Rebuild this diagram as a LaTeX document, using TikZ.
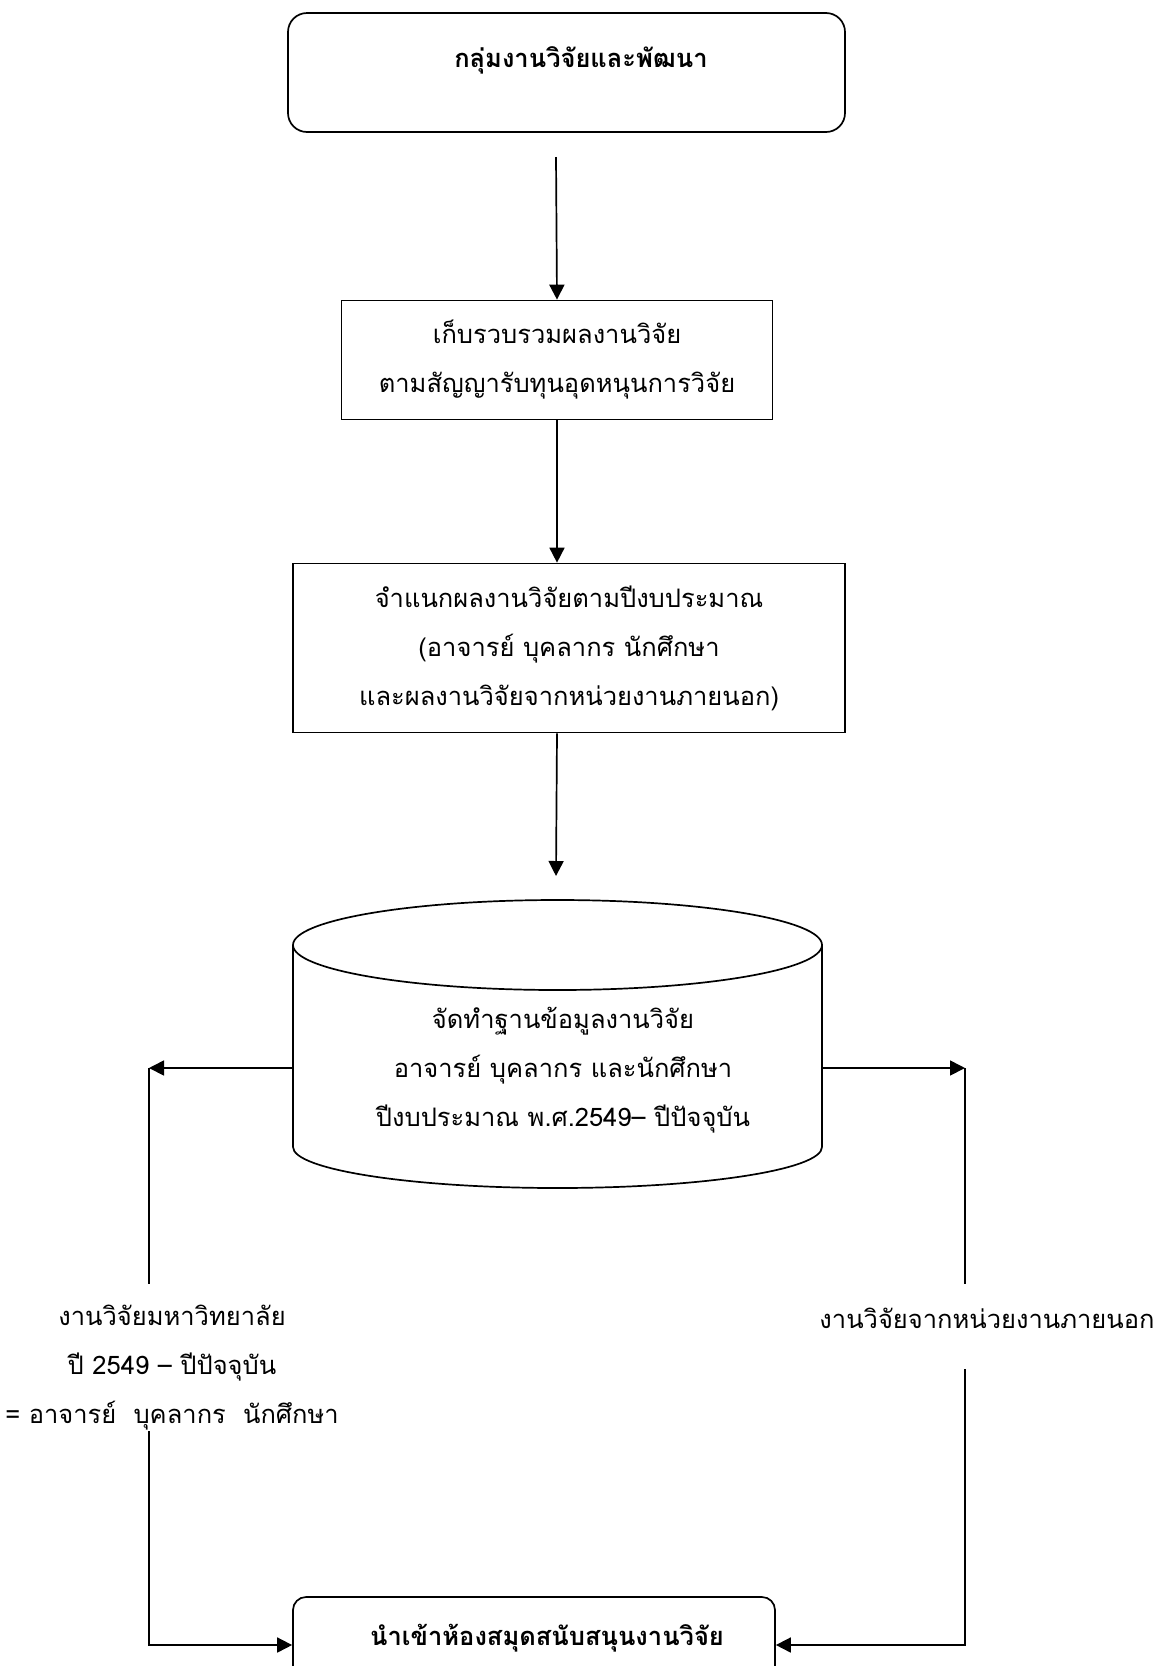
\documentclass[tikz,border=0pt]{standalone}
\usepackage{fontspec}
\setmainfont[Script=Thai]{Loma}
\usetikzlibrary{arrows.meta,calc}

\begin{document}
\begin{tikzpicture}[x=1pt,y=-1pt,line width=1.7pt,
  flow/.style={-{Triangle[length=15pt,width=15pt]}},
  txt/.style={align=center,inner sep=0pt,font=\fontsize{25.5}{49}\selectfont},
  plainbox/.style={draw,align=center,inner sep=0pt,font=\fontsize{25.5}{49}\selectfont},
  roundbox/.style={draw,inner sep=0pt}]
\useasboundingbox (0,0) rectangle (1152,1666);
\clip (0,0) rectangle (1152,1666);

% top group box
\node[roundbox,rounded corners=19pt,minimum width=557pt,minimum height=119pt] (head) at (566.5,72.5) {};
\node[txt] (headtxt) at (581,60) {\bfseries กลุ่มงานวิจัยและพัฒนา};

% process boxes
\node[plainbox,minimum width=431pt,minimum height=119pt] (collect) at (557,360)
  {เก็บรวบรวมผลงานวิจัย\\ตามสัญญารับทุนอุดหนุนการวิจัย};
\node[plainbox,minimum width=552pt,minimum height=169pt] (classify) at (569,648)
  {จำแนกผลงานวิจัยตามปีงบประมาณ\\(อาจารย์ บุคลากร นักศึกษา\\และผลงานวิจัยจากหน่วยงานภายนอก)};

\coordinate (a1) at (556,157);
\draw[flow] (a1) -- (collect.north);
\draw[flow] (collect.south) -- (collect.south |- classify.north);
\coordinate (a3) at (556,876);
\draw[flow] (collect.south |- classify.south) -- (a3);

% database cylinder
\node[minimum width=529pt,minimum height=288pt,inner sep=0pt] (db) at (557.5,1044) {};
\draw (557.5,945) ellipse [x radius=264.5pt,y radius=45pt];
\draw (293,945) -- (293,1147) arc[start angle=180,end angle=360,x radius=264.5pt,y radius=41pt] -- (822,945);
\node[txt] (dbtxt) at (563,1070)
  {จัดทำฐานข้อมูลงานวิจัย\\อาจารย์ บุคลากร และนักศึกษา\\ปีงบประมาณ พ.ศ.2549– ปีปัจจุบัน};

% left branch
\coordinate (lt) at (149,1068);
\coordinate (lb) at (149,1284);
\coordinate (lc) at (149,1431);
\coordinate (lend) at (149,1645);
\draw[flow] (db.west |- lt) -- (lt);
\draw (lt) -- (lb);
\node[txt] (univ) at (172,1368)
  {งานวิจัยมหาวิทยาลัย\\ปี 2549 – ปีปัจจุบัน\\= อาจารย์\ \ บุคลากร\ \ นักศึกษา};

% right branch
\coordinate (rt) at (965,1068);
\coordinate (rb) at (965,1284);
\coordinate (rc) at (965,1369);
\coordinate (rend) at (965,1645);
\draw[flow] (db.east |- rt) -- (rt);
\draw (rt) -- (rb);
\node[txt] (ext) at (987,1318) {งานวิจัยจากหน่วยงานภายนอก};

% library box
\node[roundbox,rounded corners=13pt,minimum width=482pt,minimum height=140pt] (store) at (534,1667) {};
\node[txt] (storetxt) at (547,1638) {\bfseries นำเข้าห้องสมุดสนับสนุนงานวิจัย};

\draw[flow] (lc) -- (lend) -- (store.west |- lend);
\draw[flow] (rc) -- (rend) -- (store.east |- rend);
\end{tikzpicture}
\end{document}
